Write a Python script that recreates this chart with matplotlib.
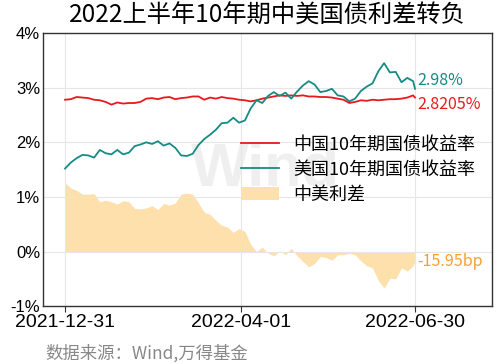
import numpy as np
import pandas as pd
import matplotlib
matplotlib.use("Agg")
import matplotlib.pyplot as plt

plt.rcParams['font.family'] = ['Noto Sans CJK SC', 'DejaVu Sans']
plt.rcParams['axes.unicode_minus'] = False

# 10Y yields (%), sampled roughly every 3 days from 2021-12-31 to 2022-06-30
day_offsets = list(range(0, 181, 3)) + [181]
cn_10y = [2.78, 2.79, 2.83, 2.82, 2.81, 2.78, 2.77, 2.74, 2.69, 2.73,
          2.71, 2.72, 2.72, 2.74, 2.80, 2.81, 2.79, 2.82, 2.83, 2.79,
          2.81, 2.82, 2.84, 2.84, 2.78, 2.82, 2.80, 2.83, 2.81, 2.80,
          2.78, 2.77, 2.75, 2.77, 2.80, 2.82, 2.84, 2.86, 2.85, 2.86,
          2.85, 2.86, 2.84, 2.84, 2.83, 2.83, 2.82, 2.80, 2.78, 2.72,
          2.74, 2.77, 2.76, 2.78, 2.77, 2.78, 2.79, 2.79, 2.80, 2.82,
          2.86, 2.8205]
us_10y = [1.52, 1.63, 1.71, 1.77, 1.76, 1.72, 1.86, 1.80, 1.78, 1.86,
          1.78, 1.81, 1.93, 1.96, 2.00, 1.97, 2.02, 1.94, 1.98, 1.90,
          1.76, 1.75, 1.79, 1.95, 2.06, 2.14, 2.23, 2.35, 2.36, 2.45,
          2.36, 2.40, 2.62, 2.77, 2.72, 2.85, 2.92, 2.85, 2.91, 2.80,
          2.93, 3.04, 3.12, 3.06, 2.92, 2.94, 2.98, 2.86, 2.84, 2.75,
          2.80, 2.94, 3.02, 3.08, 3.30, 3.45, 3.28, 3.29, 3.10, 3.18,
          3.12, 2.98]
legend_labels = ['中国10年期国债收益率', '美国10年期国债收益率', '中美利差']
x_ticks = ['2021-12-31', '2022-04-01', '2022-06-30']

start = pd.Timestamp('2021-12-31')
dates = [start + pd.Timedelta(days=d) for d in day_offsets]
cn = np.array(cn_10y)
us = np.array(us_10y)
spread = cn - us

fig = plt.figure(figsize=(5, 3.64), dpi=100)
ax = fig.add_axes([0.086, 0.159, 0.898, 0.75])

red = '#e8191c'
teal = '#168b84'
orange = '#f5a22a'

# faint watermark behind everything
ax.text(0.495, 0.50, 'Wind', transform=ax.transAxes, fontsize=44, fontweight='bold',
        color='#efefef', ha='center', va='center', family='Liberation Sans', zorder=0)

ax.fill_between(dates, spread, 0, color='#fde0ab', lw=0, zorder=1, label=legend_labels[2])
l1, = ax.plot(dates, cn, color=red, lw=1.3, zorder=3, label=legend_labels[0])
l2, = ax.plot(dates, us, color=teal, lw=1.3, zorder=3, label=legend_labels[1])

ax.set_ylim(-1, 4)
ax.set_yticks([-1, 0, 1, 2, 3, 4])
ax.set_yticklabels(['-1%', '0%', '1%', '2%', '3%', '4%'], family='Liberation Sans', fontsize=12)
ax.set_xlim(start - pd.Timedelta(days=11.4), start + pd.Timedelta(days=220.8))
ax.set_xticks([pd.Timestamp(t) for t in x_ticks])
ax.set_xticklabels(x_ticks, family='Liberation Sans', fontsize=14)
ax.tick_params(axis='y', length=0, pad=2)
ax.tick_params(axis='x', length=4, color='#333333', pad=2)
ax.grid(True, color='#e6e6e6', lw=0.8, zorder=0)
for s in ax.spines.values():
    s.set_color('#333333')
    s.set_linewidth(1.0)

handles = [l1, l2, ax.collections[0]]
ax.legend(handles=handles, labels=legend_labels, loc='upper left',
          bbox_to_anchor=(0.405, 0.685), frameon=False, fontsize=13,
          handlelength=2.1, handletextpad=0.8, labelspacing=0.4)

end = dates[-1] + pd.Timedelta(days=1)
ax.text(end, us[-1] + 0.15, '2.98%', color=teal, fontsize=11.5, va='center')
ax.text(end, cn[-1] - 0.12, '2.8205%', color=red, fontsize=11.5, va='center')
ax.text(end, spread[-1] - 0.02, '-15.95bp', color=orange, fontsize=11.5, va='center')

fig.suptitle('2022上半年10年期中美国债利差转负', fontsize=17.5, x=0.535, y=0.992, va='top')
fig.text(0.09, 0.015, '数据来源：Wind,万得基金', fontsize=12.5, color='#888888')

fig.savefig('out.png', dpi=100)
